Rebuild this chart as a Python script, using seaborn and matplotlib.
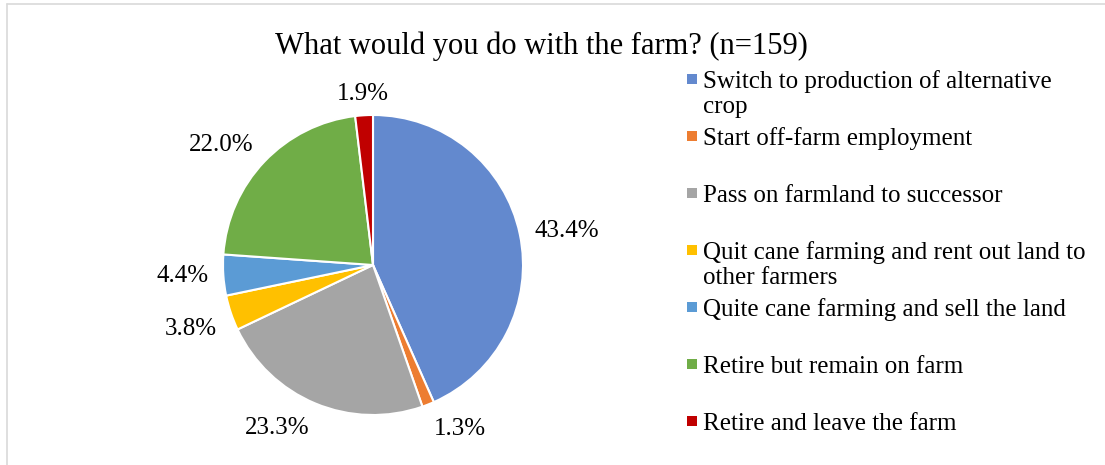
import matplotlib
matplotlib.use("Agg")
import matplotlib.pyplot as plt
import seaborn as sns
from matplotlib.lines import Line2D
from matplotlib.patches import Rectangle
import numpy as np

categories = [
    "Switch to production of alternative\ncrop",
    "Start off-farm employment",
    "Pass on farmland to successor",
    "Quit cane farming and rent out land to\nother farmers",
    "Quite cane farming and sell the land",
    "Retire but remain on farm",
    "Retire and leave the farm",
]
values = [43.4, 1.3, 23.3, 3.8, 4.4, 22.0, 1.9]
title = "What would you do with the farm? (n=159)"

colors = ["#6389CE", "#ED7D31", "#A5A5A5", "#FFC000", "#5B9BD5", "#70AD47", "#C00000"]

sns.set_theme(style="white")
plt.rcParams["font.family"] = ["Liberation Serif", "DejaVu Serif"]

W, H = 1105, 465
fig = plt.figure(figsize=(W / 100, H / 100), dpi=100)
fig.patch.set_facecolor("white")

# pie axes: centre (373,265) px, radius 150 px, pie limits +-1.25
cx, cy, r = 373, 265, 150
half = r * 1.25
ax = fig.add_axes([(cx - half) / W, (H - cy - half) / H, 2 * half / W, 2 * half / H])

palette = sns.color_palette(colors)
wedges, _ = ax.pie(values, colors=palette, startangle=90, counterclock=False,
                   wedgeprops=dict(edgecolor="white", linewidth=1.5))

# percentage labels placed just outside the wedge ends (outside-end style)
for w, v in zip(wedges, values):
    mid = np.deg2rad((w.theta1 + w.theta2) / 2)
    ux, uy = np.cos(mid), np.sin(mid)
    ha = "center" if abs(ux) < 0.2 else ("left" if ux > 0 else "right")
    va = "center" if abs(uy) < 0.25 else ("baseline" if uy > 0 else "top")
    ax.text(1.1 * ux, 1.1 * uy, f"{v:.1f}%", ha=ha, va=va,
            fontsize=18, color="#000000", clip_on=False)

# title
fig.text(541 / W, 1 - 46 / H, title, ha="center", va="center", fontsize=22, color="#000000")

# legend (manual layout)
y0, step = 79, 57
for i, (lab, col) in enumerate(zip(categories, palette)):
    y = y0 + i * step
    fig.patches.append(Rectangle((687 / W, 1 - (y + 5) / H), 10 / W, 10 / H,
                                 transform=fig.transFigure, facecolor=col, edgecolor="none"))
    fig.text(703 / W, 1 - (y - 8.5) / H, lab, ha="left", va="top", fontsize=18,
             color="#000000", linespacing=1.15)

# chart border (left and top visible)
fig.add_artist(Line2D([7 / W, 7 / W], [0, 1 - 4 / H], transform=fig.transFigure,
                      color="#D9D9D9", linewidth=1.2))
fig.add_artist(Line2D([7 / W, 1], [1 - 4 / H, 1 - 4 / H], transform=fig.transFigure,
                      color="#D9D9D9", linewidth=1.2))

fig.savefig("out.png", dpi=100)
